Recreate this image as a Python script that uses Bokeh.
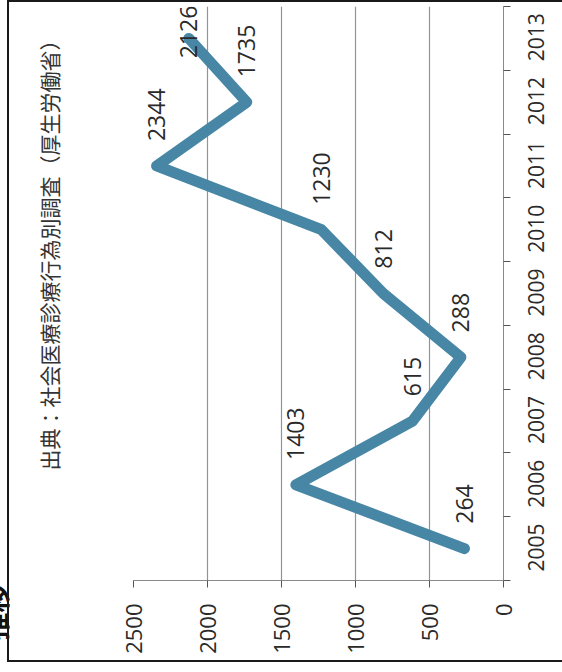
import math
from bokeh.plotting import figure
from bokeh.models import (Range1d, FixedTicker, Title, ColumnDataSource, InlineStyleSheet)
from bokeh.transform import dodge
from bokeh.core.properties import value
from bokeh.embed import file_html
from bokeh.resources import INLINE

# ---- data ----
years = [2005, 2006, 2007, 2008, 2009, 2010, 2011, 2012, 2013]
counts = [264, 1403, 615, 288, 812, 1230, 2344, 1735, 2126]
value_ticks = [0, 500, 1000, 1500, 2000, 2500]
source_text = "出典：社会医療診療行為別調査（厚生労働省）"
cut_title = "推移"

LINE_COLOR = "#4787a5"
GRID_COLOR = "#8e949a"
AXIS_COLOR = "#8a8a8a"
TEXT_COLOR = "#2a2a2a"
FONT = "Open Sans"
CJK = "Noto Sans CJK JP"

W, H = 562, 672
FL, FR, FT, FB = 133, 503, 6, 580          # frame edges in pixels
VMAX = 2500
Y0, Y1 = years[0] - 0.5, years[-1] + 0.5
LABEL_SHIFT = 0.36   # rotated year labels start below the category centre

border_css = InlineStyleSheet(css="""
:host { position: relative; }
:host::after {
  content: ""; position: absolute; z-index: 1000; pointer-events: none;
  left: 7px; top: 0px; width: 555px; height: 662px; box-sizing: border-box;
  border-left: 2px solid #1a1a1a; border-top: 2px solid #1a1a1a;
  border-bottom: 2px solid #1a1a1a;
}
""")

p = figure(width=W, height=H, output_backend="svg", toolbar_location=None,
           x_range=Range1d(VMAX, 0), y_range=Range1d(Y0, Y1),
           x_axis_location="below", y_axis_location="right",
           min_border_left=FL, min_border_right=W - FR,
           min_border_top=FT, min_border_bottom=H - FB,
           stylesheets=[border_css])
p.background_fill_color = "white"
p.border_fill_color = "white"
p.outline_line_color = None

# value axis (bottom, rotated chart)
xa = p.xaxis[0]
xa.ticker = FixedTicker(ticks=value_ticks)
xa.major_label_orientation = math.pi / 2
xa.major_label_text_font = FONT
xa.major_label_text_font_size = "22px"
xa.major_label_text_color = TEXT_COLOR
xa.axis_line_color = AXIS_COLOR
xa.major_tick_line_color = "#555555"
xa.major_tick_out = 7
xa.major_tick_in = 0
xa.minor_tick_out = 0
xa.minor_tick_in = 0
xa.major_label_standoff = 16

# year axis (right): tick marks between categories, labels centred on categories
ya = p.yaxis[0]
boundaries = [y - 0.5 for y in years] + [years[-1] + 0.5]
label_pos = [round(y - LABEL_SHIFT, 2) for y in years]
ya.ticker = FixedTicker(ticks=label_pos, minor_ticks=boundaries)
ya.major_label_overrides = {lp: str(y) for lp, y in zip(label_pos, years)}
ya.major_label_orientation = math.pi / 2
ya.major_label_text_font = FONT
ya.major_label_text_font_size = "21px"
ya.major_label_text_color = TEXT_COLOR
ya.major_label_standoff = 26
ya.axis_line_color = AXIS_COLOR
ya.major_tick_out = 0
ya.major_tick_in = 0
ya.minor_tick_out = 7
ya.minor_tick_in = 0
ya.minor_tick_line_color = "#555555"

p.xgrid.ticker = FixedTicker(ticks=value_ticks)
p.xgrid.grid_line_color = GRID_COLOR
p.xgrid.grid_line_width = 1.2
p.ygrid.visible = False

src = ColumnDataSource(dict(year=years, count=counts))
p.line("count", "year", source=src, line_width=11, line_color=LINE_COLOR,
       line_cap="round", line_join="round")

head = ColumnDataSource(dict(year=years[:-1], count=counts[:-1],
                             label=[str(c) for c in counts[:-1]]))
tail = ColumnDataSource(dict(year=years[-1:], count=counts[-1:],
                             label=[str(c) for c in counts[-1:]]))
p.text(x="count", y=dodge("year", 0.39), text="label", source=head,
       angle=math.pi / 2, text_align="left", text_baseline="middle",
       text_font=value(FONT), text_font_size="23px", text_color=TEXT_COLOR)
p.text(x="count", y=dodge("year", 0.1), text="label", source=tail,
       angle=math.pi / 2, text_align="center", text_baseline="middle",
       text_font=value(FONT), text_font_size="23px", text_color=TEXT_COLOR)

# blank spacer panel between the frame and the source note
p.add_layout(Title(text=" ", standoff=18, text_font=CJK, text_font_size="21px"), "left")

p.add_layout(Title(text=source_text, align="left", offset=110, standoff=40,
                   text_font=CJK, text_font_size="21px", text_font_style="normal",
                   text_color="#333333"), "left")
p.add_layout(Title(text=cut_title, align="left", offset=-60, standoff=-74,
                   vertical_align="top",
                   text_font=CJK, text_font_size="28px", text_font_style="bold",
                   text_color="#111111"), "left")

open("out.html", "w").write(file_html(p, INLINE))
